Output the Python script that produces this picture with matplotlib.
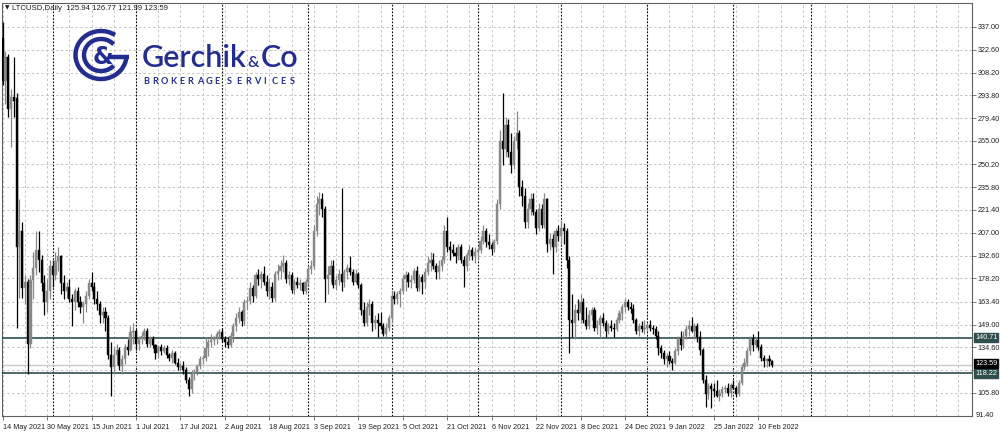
import datetime as dt
import matplotlib
matplotlib.use("Agg")
import matplotlib.pyplot as plt
import matplotlib.patches as patches
import matplotlib.transforms as mtransforms

# LTCUSD daily candles, one per day starting 14 May 2021
start_date = dt.date(2021, 5, 14)

opens = [
    330, 303, 318, 285, 293, 292, 198, 208, 172, 176,
    137, 177, 185, 196, 190, 175, 163, 170, 186, 180,
    189, 192, 175, 170, 173, 165, 163, 170, 163, 160,
    162, 167, 175, 173, 165, 162, 155, 157, 153, 130,
    122, 130, 133, 123, 127, 135, 133, 144, 145, 137,
    140, 142, 145, 137, 140, 136, 131, 135, 132, 134,
    130, 128, 131, 125, 122, 123, 120, 114, 108, 118,
    119, 123, 127, 128, 134, 138, 139, 141, 143, 144,
    140, 138, 136, 142, 148, 153, 157, 151, 163, 164,
    172, 167, 180, 178, 181, 176, 170, 173, 166, 181,
    183, 186, 188, 178, 180, 171, 176, 174, 175, 170,
    176, 184, 186, 208, 225, 228, 222, 178, 180, 186,
    174, 177, 181, 176, 182, 185, 182, 176, 181, 174,
    158, 150, 160, 162, 150, 152, 150, 148, 143, 147,
    153, 167, 165, 168, 170, 178, 180, 176, 177, 183,
    172, 179, 176, 182, 188, 190, 186, 182, 186, 190,
    208, 198, 196, 194, 192, 198, 190, 186, 193, 196,
    192, 195, 196, 202, 208, 201, 199, 197, 202, 225,
    265, 260, 275, 258, 250, 265, 270, 236, 230, 214,
    222, 228, 220, 210, 222, 212, 228, 200, 203, 198,
    208, 205, 210, 208, 190, 152, 150, 158, 156, 163,
    152, 148, 155, 158, 147, 149, 153, 150, 145, 148,
    147, 146, 152, 156, 160, 163, 160, 159, 152, 145,
    148, 146, 147, 149, 147, 146, 142, 134, 131, 127,
    129, 126, 125, 132, 140, 136, 142, 146, 148, 145,
    148, 141, 133, 114, 105, 110, 108, 107, 104, 106,
    108, 109, 106, 111, 109, 105, 112, 122, 125, 132,
    140, 136, 139, 135, 128, 126, 127, 125.94,
]
highs = [
    340, 322, 320, 298, 318, 295, 228, 214, 180, 178,
    180, 195, 208, 208, 193, 180, 178, 190, 190, 195,
    198, 193, 180, 176, 178, 168, 172, 173, 167, 164,
    170, 178, 182, 176, 170, 164, 160, 160, 155, 138,
    135, 137, 135, 130, 137, 140, 148, 150, 146, 142,
    144, 147, 147, 142, 142, 137, 136, 137, 136, 136,
    131, 133, 132, 128, 125, 126, 122, 116, 120, 121,
    124, 129, 130, 141, 140, 143, 142, 145, 146, 147,
    142, 141, 144, 150, 156, 160, 158, 165, 167, 176,
    174, 182, 184, 183, 186, 180, 178, 176, 183, 187,
    190, 193, 190, 183, 182, 178, 179, 178, 176, 178,
    186, 190, 212, 230, 233, 232, 224, 186, 190, 190,
    180, 184, 235, 184, 187, 192, 184, 184, 182, 175,
    163, 163, 165, 164, 155, 156, 157, 150, 150, 155,
    170, 170, 170, 172, 180, 183, 182, 180, 185, 186,
    181, 181, 185, 192, 195, 194, 188, 190, 192, 212,
    217, 202, 200, 198, 200, 200, 192, 195, 199, 198,
    198, 198, 205, 212, 210, 206, 201, 203, 228, 272,
    295, 280, 279, 270, 268, 284, 272, 240, 235, 226,
    232, 232, 222, 226, 225, 232, 229, 207, 206, 210,
    212, 215, 213, 210, 192, 168, 162, 165, 168, 166,
    160, 158, 160, 160, 152, 155, 156, 152, 150, 152,
    150, 154, 158, 162, 166, 165, 163, 162, 153, 150,
    151, 152, 150, 152, 149, 148, 145, 136, 133, 131,
    132, 128, 134, 142, 145, 145, 149, 152, 154, 150,
    150, 145, 134, 117, 112, 112, 112, 114, 108, 110,
    111, 112, 112, 114, 110, 114, 124, 128, 134, 142,
    143, 141, 145, 137, 130, 128, 130, 126.77,
]
lows = [
    300, 288, 280, 261, 280, 147, 166, 166, 162, 118,
    134, 165, 180, 182, 170, 155, 157, 165, 173, 177,
    183, 168, 165, 166, 163, 148, 158, 160, 156, 150,
    157, 165, 170, 162, 158, 150, 150, 145, 127, 104,
    118, 124, 120, 118, 124, 130, 132, 137, 133, 133,
    137, 139, 135, 135, 134, 127, 128, 130, 131, 128,
    126, 125, 124, 120, 120, 118, 112, 104, 106, 114,
    117, 121, 124, 126, 129, 135, 136, 137, 140, 138,
    135, 134, 135, 138, 145, 150, 148, 149, 158, 162,
    163, 166, 174, 172, 174, 167, 165, 163, 164, 177,
    178, 182, 175, 174, 169, 168, 172, 171, 168, 168,
    174, 181, 184, 205, 218, 217, 163, 168, 176, 172,
    171, 174, 170, 173, 178, 180, 174, 175, 172, 155,
    148, 148, 155, 145, 146, 141, 146, 142, 141, 145,
    150, 162, 162, 160, 168, 170, 173, 172, 175, 170,
    170, 168, 172, 180, 183, 184, 178, 178, 183, 188,
    195, 190, 192, 188, 190, 188, 173, 183, 190, 190,
    188, 190, 194, 200, 198, 197, 193, 195, 200, 222,
    250, 255, 255, 245, 247, 260, 230, 224, 210, 210,
    218, 218, 206, 208, 210, 210, 195, 196, 181, 195,
    202, 200, 200, 185, 131, 141, 140, 152, 150, 150,
    146, 146, 152, 145, 143, 141, 148, 141, 143, 145,
    141, 145, 150, 152, 157, 158, 156, 150, 143, 142,
    144, 143, 145, 145, 143, 140, 130, 128, 124, 122,
    124, 120, 124, 130, 133, 134, 140, 142, 144, 140,
    138, 130, 112, 97, 102, 96, 103, 103, 101, 103,
    106, 104, 103, 108, 103, 104, 111, 120, 123, 130,
    132, 134, 133, 126, 122, 122, 123, 121.99,
]
closes = [
    303, 318, 285, 293, 290, 198, 208, 172, 176, 137,
    177, 185, 196, 190, 175, 163, 170, 186, 180, 189,
    192, 175, 170, 173, 165, 163, 170, 163, 160, 162,
    167, 175, 173, 165, 162, 155, 157, 153, 130, 122,
    130, 133, 123, 127, 135, 133, 144, 145, 137, 140,
    142, 145, 137, 140, 136, 131, 135, 132, 134, 130,
    128, 131, 125, 122, 123, 120, 114, 108, 118, 119,
    123, 127, 128, 134, 138, 139, 141, 143, 144, 140,
    138, 136, 142, 148, 153, 157, 151, 163, 164, 172,
    167, 180, 178, 181, 176, 170, 173, 166, 181, 183,
    186, 188, 178, 180, 171, 176, 174, 175, 170, 176,
    184, 186, 208, 225, 228, 222, 178, 180, 186, 174,
    177, 181, 176, 182, 185, 182, 176, 181, 174, 158,
    150, 160, 162, 150, 152, 150, 148, 143, 147, 153,
    167, 165, 168, 170, 178, 180, 176, 177, 183, 172,
    179, 176, 182, 188, 190, 186, 182, 186, 190, 208,
    198, 196, 194, 192, 198, 190, 186, 193, 196, 192,
    195, 196, 202, 208, 201, 199, 197, 202, 225, 265,
    260, 275, 258, 250, 265, 270, 236, 230, 214, 222,
    228, 220, 210, 222, 212, 228, 200, 203, 198, 208,
    205, 210, 208, 190, 152, 150, 158, 156, 163, 152,
    148, 155, 158, 147, 149, 153, 150, 145, 148, 147,
    146, 152, 156, 160, 163, 160, 159, 152, 145, 148,
    146, 147, 149, 147, 146, 142, 134, 131, 127, 129,
    126, 125, 132, 140, 136, 142, 146, 148, 145, 148,
    141, 133, 114, 105, 110, 108, 107, 104, 106, 108,
    109, 106, 111, 109, 105, 112, 122, 125, 132, 140,
    136, 139, 135, 128, 126, 127, 125.94, 123.59,
]

price_ticks = [105.80, 120.20, 134.60, 149.00, 163.40, 178.20, 192.60, 207.00,
               221.40, 235.80, 250.20, 265.00, 279.40, 293.80, 308.20, 322.60, 337.00]
price_tick_labels = ["105.80", "", "134.60", "149.00", "163.40", "178.20", "192.60",
                     "207.00", "221.40", "235.80", "250.20", "265.00", "279.40",
                     "293.80", "308.20", "322.60", "337.00"]
bottom_label = 91.40
date_labels = ["14 May 2021", "30 May 2021", "15 Jun 2021", "1 Jul 2021", "17 Jul 2021",
               "2 Aug 2021", "18 Aug 2021", "3 Sep 2021", "19 Sep 2021", "5 Oct 2021",
               "21 Oct 2021", "6 Nov 2021", "22 Nov 2021", "8 Dec 2021", "24 Dec 2021",
               "9 Jan 2022", "25 Jan 2022", "10 Feb 2022"]
month_starts = ["2021-06-01", "2021-07-01", "2021-08-01", "2021-09-01", "2021-10-01",
                "2021-11-01", "2021-12-01", "2022-01-01", "2022-02-01", "2022-03-01"]
level_lines = [140.71, 118.22]
last_price = 123.59
header_text = "LTCUSD,Daily  125.94 126.77 121.99 123.59"
brand_name = ["Gerchik", "&", "Co"]
brand_words = ["BROKERAGE", "SERVICES"]

W, H = 1000, 433
BULL = "#888888"
BEAR = "#000000"
GRID = "#c4c4c4"
LEVEL = "#2f4f4f"
LOGO = "#232d90"
FONT = "Liberation Sans"
FS = 5.2


def day_index(s):
    d = dt.date.fromisoformat(s)
    return (d - start_date).days


fig = plt.figure(figsize=(W / 100, H / 100), dpi=100)
ax = fig.add_axes([2 / W, (H - 416) / H, 970 / W, 413 / H])
ax.set_xlim(-0.25, 348.9)
ax.set_ylim(91.25, 352.1)

# grid
for k in range(0, 349, 8):
    ax.axvline(k, color=GRID, lw=0.7, ls=(0, (2.5, 2.5)), zorder=0)
for p in price_ticks:
    ax.axhline(p, color=GRID, lw=0.7, ls=(0, (2.5, 2.5)), zorder=0)
for m in month_starts:
    ax.axvline(day_index(m), color="#000000", lw=0.8, ls=(0, (1.5, 1.5)), zorder=1)

# levels and bid line
ax.axhline(last_price, color="#c8c8c8", lw=1.0, zorder=1)
for lv in level_lines:
    ax.axhline(lv, color=LEVEL, lw=1.2, zorder=3)

# candles
for i in range(len(closes)):
    o, h, l, c = opens[i], highs[i], lows[i], closes[i]
    col = BULL if c >= o else BEAR
    ax.vlines(i, l, h, color=col, lw=0.9, zorder=4)
    bottom = min(o, c)
    height = max(abs(c - o), 0.4)
    ax.add_patch(patches.Rectangle((i - 0.38, bottom), 0.76, height,
                                   facecolor=col, edgecolor=col, lw=0.3, zorder=5))

# axes styling
for s in ax.spines.values():
    s.set_color("#606060")
    s.set_linewidth(0.8)
ax.yaxis.tick_right()
ax.set_yticks(price_ticks, price_tick_labels)
ax.tick_params(axis="y", length=3, width=0.6, color="#606060", labelsize=FS,
               pad=1, labelcolor="#202020")
xt = [(dt.datetime.strptime(s, "%d %b %Y").date() - start_date).days for s in date_labels]
ax.set_xticks(xt, date_labels)
for lab in ax.get_xticklabels() + ax.get_yticklabels():
    lab.set_family(FONT)
for lab in ax.get_xticklabels():
    lab.set_horizontalalignment("left")
ax.tick_params(axis="x", length=3, width=0.6, color="#606060", labelsize=FS,
               pad=2.5, labelcolor="#202020")

trans = mtransforms.blended_transform_factory(ax.transAxes, ax.transData)
ax.text(1.004, bottom_label, "91.40", transform=trans, fontsize=FS, color="#202020",
        va="center", ha="left", clip_on=False, family=FONT)
for lv in level_lines:
    ax.text(1.003, lv, f"{lv:.2f}", transform=trans, fontsize=FS, color="white",
            va="center", ha="left", clip_on=False, family=FONT,
            bbox=dict(boxstyle="square,pad=0.15", fc=LEVEL, ec=LEVEL))
ax.text(1.003, last_price + 0.8, f"{last_price:.2f}", transform=trans, fontsize=FS,
        color="white", va="center", ha="left", clip_on=False, family=FONT,
        bbox=dict(boxstyle="square,pad=0.15", fc="black", ec="black"))

# overlay in pixel coordinates: header and logo
ov = fig.add_axes([0, 0, 1, 1], facecolor="none")
ov.set_xlim(0, W)
ov.set_ylim(H, 0)
ov.axis("off")
ov.text(5, 8, "\u25bc", fontsize=4.2, va="center", ha="left", color="#202020")
ov.text(12, 8, header_text, fontsize=5.6, va="center", ha="left", color="#202020",
        family=FONT)

cx, cy = 101, 55
ov.add_patch(patches.Arc((cx, cy), 51, 48, theta1=0, theta2=305, lw=3.2, color=LOGO))
ov.plot([cx + 9, cx + 27.5], [cy + 2, cy + 2], color=LOGO, lw=3.2, solid_capstyle="butt")
ov.add_patch(patches.Arc((cx, cy), 34, 32, theta1=40, theta2=320, lw=3.2, color=LOGO))
ov.text(cx + 2, cy + 2, "&", fontsize=17, fontweight="bold", color=LOGO,
        ha="center", va="center", family="DejaVu Sans")

# brand name, pieces placed one after another
renderer = fig.canvas.get_renderer()
inv = ov.transData.inverted()
x_pos = 142
sizes = [22, 11.5, 22]
gaps = [1, 1, 0]
for word, size, gap in zip(brand_name, sizes, gaps):
    t = ov.text(x_pos, 67, word, fontsize=size, color=LOGO, ha="left", va="baseline",
                family="Lato", fontweight="semibold")
    bb = t.get_window_extent(renderer)
    x_pos = inv.transform((bb.x1, bb.y1))[0] + gap

# spaced caps under the name
word_starts = [143, 227]
for word, xs in zip(brand_words, word_starts):
    for j, ch in enumerate(word):
        ov.text(xs + j * 8.95, 84, ch, fontsize=6.6, color=LOGO, ha="left",
                va="baseline", family="Lato", fontweight="bold")

fig.savefig("out.png", dpi=100)
